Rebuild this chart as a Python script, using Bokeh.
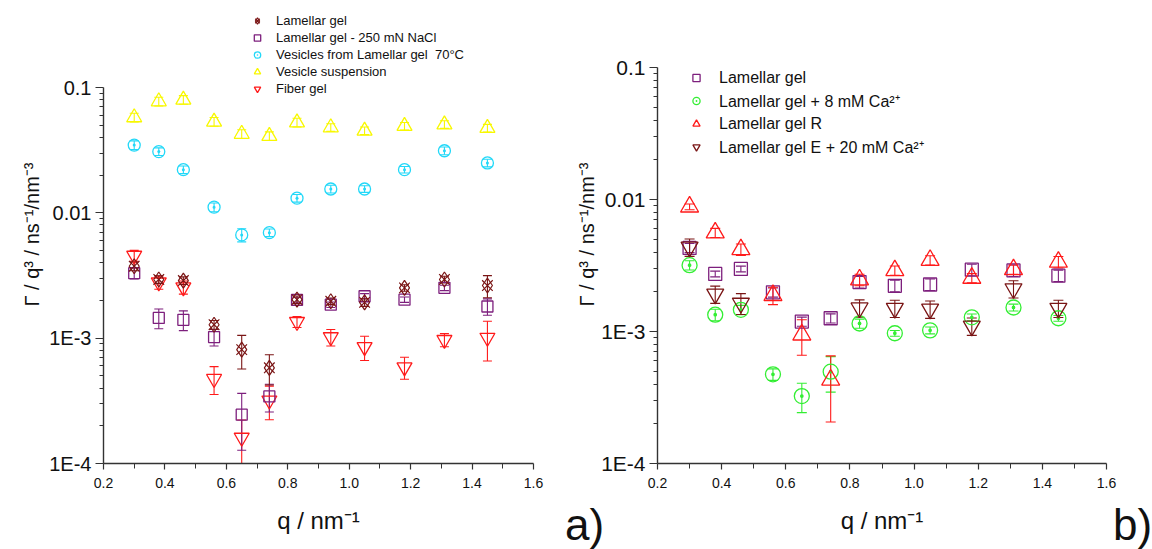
from bokeh.plotting import figure
from bokeh.layouts import row, column
from bokeh.models import (ColumnDataSource, Range1d, FixedTicker, Whisker, TeeHead,
                          Legend, LegendItem, Div)
from bokeh.embed import file_html
from bokeh.resources import INLINE

# ---------------- data ----------------
q = [0.30, 0.38, 0.46, 0.56, 0.65, 0.74, 0.83, 0.94, 1.05, 1.18, 1.31, 1.45]

# panel a)
a_lamellar = [0.00375, 0.00294, 0.00288, 0.00128, 0.00081, 0.00058, 0.00203, 0.00197, 0.00193, 0.00252, 0.00294, 0.00263]
a_lamellar_err = [0.08, 0.07, 0.07, 0.08, 0.30, 0.27, 0.07, 0.06, 0.07, 0.06, 0.06, 0.20]
a_nacl = [0.0033, 0.00145, 0.00140, 0.00102, 0.000245, 0.000343, 0.00202, 0.00185, 0.00216, 0.00203, 0.00252, 0.00179]
a_nacl_err = [0.10, 0.18, 0.18, 0.15, 0.48, 0.25, 0.05, 0.05, 0.05, 0.05, 0.05, 0.15]
a_ves70 = [0.0347, 0.0308, 0.0221, 0.0111, 0.00667, 0.00695, 0.0131, 0.0155, 0.0155, 0.0221, 0.0313, 0.0250]
a_ves70_err = [0.08, 0.07, 0.07, 0.08, 0.12, 0.07, 0.07, 0.07, 0.06, 0.06, 0.07, 0.07]
a_vessusp = [0.0577, 0.0774, 0.0798, 0.0533, 0.0426, 0.0410, 0.0526, 0.0480, 0.0452, 0.0492, 0.0507, 0.0475]
a_vessusp_err = [0.08, 0.08, 0.08, 0.08, 0.08, 0.08, 0.08, 0.07, 0.07, 0.07, 0.07, 0.07]
a_fiber = [0.00456, 0.00279, 0.00255, 0.000474, 0.000161, 0.000319, 0.00135, 0.00102, 0.00085, 0.000587, 0.00097, 0.00101]
a_fiber_err = [0.10, 0.12, 0.12, 0.25, 0.38, 0.30, 0.10, 0.15, 0.22, 0.20, 0.12, 0.35]

# panel b)
b_lamellar = [0.0043, 0.00273, 0.00298, 0.00198, 0.00119, 0.00126, 0.00237, 0.00222, 0.00227, 0.00294, 0.0029, 0.00265]
b_lamellar_err = [0.08, 0.05, 0.05, 0.08, 0.08, 0.08, 0.10, 0.10, 0.10, 0.10, 0.10, 0.10]
b_ca8 = [0.00318, 0.00134, 0.00146, 0.000474, 0.000324, 0.000496, 0.00115, 0.00097, 0.00102, 0.00128, 0.00152, 0.00126]
b_ca8_err = [0.08, 0.10, 0.08, 0.10, 0.25, 0.30, 0.08, 0.05, 0.06, 0.06, 0.06, 0.05]
b_R = [0.0088, 0.0056, 0.00418, 0.00188, 0.000944, 0.00043, 0.00247, 0.0029, 0.00347, 0.00254, 0.00295, 0.00336]
b_R_err = [0.05, 0.08, 0.10, 0.15, 0.30, 0.52, 0.10, 0.08, 0.08, 0.08, 0.08, 0.10]
q_E = [0.30, 0.38, 0.46, 0.83, 0.94, 1.05, 1.18, 1.31, 1.45]
b_E = [0.00436, 0.00192, 0.00164, 0.00151, 0.0015, 0.00148, 0.0011, 0.00211, 0.0015]
b_E_err = [0.15, 0.15, 0.18, 0.15, 0.15, 0.15, 0.15, 0.15, 0.15]

x_ticks = [0.2, 0.4, 0.6, 0.8, 1.0, 1.2, 1.4, 1.6]
x_tick_labels = ["0.2", "0.4", "0.6", "0.8", "1.0", "1.2", "1.4", "1.6"]
y_ticks = [0.0001, 0.001, 0.01, 0.1]
y_tick_labels = ["1E-4", "1E-3", "0.01", "0.1"]
panel_tags = ["a)", "b)"]

# ---------------- style ----------------
BROWN = "#7a1515"
PURPLE = "#7d1f7d"
CYAN = "#22d8f8"
YELLOW = "#f8f800"
RED = "#ff1a1a"
GREEN = "#33ee33"
AXIS = "#333333"
TFONT = "Liberation Sans"


def make_fig(bl, br, y_top, ytick_size, ylab_standoff, fw):
    # frame extends above the 0.1 decade so the legend sits inside it;
    # the drawn axis is bounded to 1E-4 .. 0.1
    p = figure(frame_width=fw, frame_height=458, y_axis_type="log",
               x_range=Range1d(0.2, 1.6), y_range=Range1d(1e-4, y_top),
               output_backend="svg", toolbar_location=None,
               min_border_left=bl, min_border_right=br, min_border_top=5, min_border_bottom=86)
    p.outline_line_color = None
    p.grid.visible = False
    p.background_fill_color = "white"
    p.border_fill_color = "white"
    xa = p.xaxis[0]
    ya = p.yaxis[0]
    xa.ticker = FixedTicker(ticks=x_ticks, minor_ticks=[t + 0.1 for t in x_ticks[:-1]])
    xa.major_label_overrides = {t: l for t, l in zip(x_ticks, x_tick_labels)}
    minors = []
    for t in y_ticks[:-1]:
        minors += [k * t for k in range(2, 10)]
    ya.ticker = FixedTicker(ticks=y_ticks, minor_ticks=minors)
    ya.major_label_overrides = {t: l for t, l in zip(y_ticks, y_tick_labels)}
    ya.bounds = (y_ticks[0], y_ticks[-1])
    for ax in (xa, ya):
        ax.axis_line_color = AXIS
        ax.axis_line_width = 1.4
        ax.major_tick_line_color = AXIS
        ax.minor_tick_line_color = AXIS
        ax.major_tick_line_width = 1.2
        ax.minor_tick_line_width = 1.0
        ax.major_tick_in = 0
        ax.minor_tick_in = 0
        ax.major_label_text_font = TFONT
        ax.axis_label_text_font = TFONT
        ax.axis_label_text_font_style = "normal"
        ax.major_label_text_color = "#111111"
        ax.axis_label_text_color = "#111111"
    xa.major_tick_out = 6
    xa.minor_tick_out = 5
    xa.major_label_text_font_size = "14px"
    xa.major_label_standoff = 8
    xa.axis_label = "q / nm⁻¹"
    xa.axis_label_text_font_size = "24px"
    xa.axis_label_standoff = 16
    ya.major_tick_out = 8
    ya.minor_tick_out = 4
    ya.major_label_text_font_size = ytick_size
    ya.major_label_standoff = 4
    ya.axis_label = "Γ / q³ / ns⁻¹/nm⁻³"
    ya.axis_label_text_font_size = "20px"
    ya.axis_label_standoff = ylab_standoff
    return p


def errbar(p, x, y, err, color, head=9):
    src = ColumnDataSource(dict(x=x,
                                lower=[v * (1 - e) for v, e in zip(y, err)],
                                upper=[v * (1 + e) for v, e in zip(y, err)]))
    w = Whisker(source=src, base="x", lower="lower", upper="upper",
                line_color=color, line_width=1.1,
                lower_head=TeeHead(size=head, line_color=color, line_width=1.1),
                upper_head=TeeHead(size=head, line_color=color, line_width=1.1))
    p.add_layout(w)


# ---------------- panel a ----------------
pa = make_fig(103, 27, 0.4511, "20px", 3, 430)

errbar(pa, q, a_vessusp, a_vessusp_err, YELLOW)
errbar(pa, q, a_ves70, a_ves70_err, CYAN)
errbar(pa, q, a_fiber, a_fiber_err, RED)
errbar(pa, q, a_nacl, a_nacl_err, PURPLE)
errbar(pa, q, a_lamellar, a_lamellar_err, BROWN)

r_vs = pa.scatter(q, a_vessusp, marker="triangle", size=15, fill_color=None, line_color=YELLOW, line_width=1.3)
r_v70 = pa.scatter(q, a_ves70, marker="circle_dot", size=12, fill_color=None, line_color=CYAN, line_width=1.3)
r_fb = pa.scatter(q, a_fiber, marker="inverted_triangle", size=15, fill_color=None, line_color=RED, line_width=1.3)
r_nc = pa.scatter(q, a_nacl, marker="square", size=11, fill_color=None, line_color=PURPLE, line_width=1.3)
r_l1 = pa.scatter(q, a_lamellar, marker="x", size=15, line_color=BROWN, line_width=1.2)
r_l2 = pa.scatter(q, a_lamellar, marker="diamond", size=15, fill_color=None, line_color=BROWN, line_width=1.2)

leg_a = Legend(items=[
    LegendItem(label="Lamellar gel", renderers=[r_l1, r_l2]),
    LegendItem(label="Lamellar gel - 250 mN NaCl", renderers=[r_nc]),
    LegendItem(label="Vesicles from Lamellar gel  70°C", renderers=[r_v70]),
    LegendItem(label="Vesicle suspension", renderers=[r_vs]),
    LegendItem(label="Fiber gel", renderers=[r_fb]),
], location=(146, 366), padding=0, margin=0, spacing=0,
    label_height=17, glyph_height=17, glyph_width=16, label_standoff=11,
    label_text_font=TFONT, label_text_font_size="13px", label_text_color="#111111",
    border_line_color=None, background_fill_alpha=0)
pa.add_layout(leg_a)

# ---------------- panel b ----------------
pb = make_fig(97, 46, 0.2949, "21px", 0, 449)

errbar(pb, q, b_ca8, b_ca8_err, GREEN, 10)
errbar(pb, q, b_lamellar, b_lamellar_err, PURPLE, 10)
errbar(pb, q_E, b_E, b_E_err, BROWN, 10)
errbar(pb, q, b_R, b_R_err, RED, 10)

r_bl = pb.scatter(q, b_lamellar, marker="square", size=13, fill_color=None, line_color=PURPLE, line_width=1.3)
r_bc = pb.scatter(q, b_ca8, marker="circle_dot", size=15, fill_color=None, line_color=GREEN, line_width=1.3)
r_bE = pb.scatter(q_E, b_E, marker="inverted_triangle", size=17, fill_color=None, line_color=BROWN, line_width=1.3)
r_bR = pb.scatter(q, b_R, marker="triangle", size=18, fill_color=None, line_color=RED, line_width=1.3)

leg_b = Legend(items=[
    LegendItem(label="Lamellar gel", renderers=[r_bl]),
    LegendItem(label="Lamellar gel + 8 mM Ca²⁺", renderers=[r_bc]),
    LegendItem(label="Lamellar gel R", renderers=[r_bR]),
    LegendItem(label="Lamellar gel E + 20 mM Ca²⁺", renderers=[r_bE]),
], location=(30, 305), padding=0, margin=0, spacing=0,
    label_height=23, glyph_height=23, glyph_width=18, label_standoff=14,
    label_text_font=TFONT, label_text_font_size="16px", label_text_color="#111111",
    border_line_color=None, background_fill_alpha=0)
pb.add_layout(leg_b)

# panel tags "a)" / "b)" overlaid on the bottom strip of the row
tag_html = (
    '<div style="position:relative;width:1152px;height:48px;'
    'font-family:\'Liberation Sans\';font-size:44px;line-height:48px;color:#111111;">'
    '<span style="position:absolute;left:565px;top:0px;">%s</span>'
    '<span style="position:absolute;left:1113px;top:0px;">%s</span>'
    '</div>' % (panel_tags[0], panel_tags[1])
)
tags = Div(text=tag_html, width=1152, height=48, margin=(-48, 0, 0, 0))

layout = column(row(pa, pb), tags)
open("out.html", "w").write(file_html(layout, INLINE))
